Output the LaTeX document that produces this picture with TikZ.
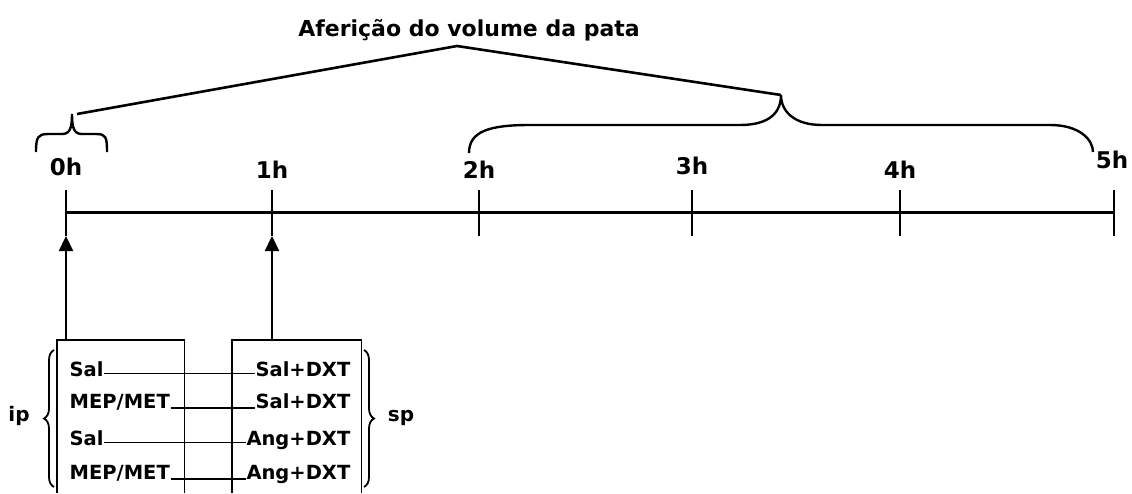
\documentclass[tikz,border=0pt]{standalone}
\usepackage{fontspec}
\setmainfont{DejaVu Sans}
\usetikzlibrary{arrows.meta, positioning, calc, decorations.pathreplacing}

\begin{document}
\begin{tikzpicture}[
  x=1pt, y=-1pt,
  hour/.style={font=\fontsize{23}{25}\selectfont\bfseries, inner sep=0pt},
  heading/.style={font=\fontsize{22}{24}\selectfont\bfseries, inner sep=0pt},
  rowtxt/.style={font=\fontsize{19.5}{21}\selectfont\bfseries, inner sep=0.5pt},
  side/.style={font=\fontsize{20}{22}\selectfont\bfseries, inner sep=0pt},
  axis/.style={line width=3pt},
  tickmark/.style={line width=2.4pt},
  lead/.style={line width=2.6pt, line join=miter},
  curve/.style={line width=2.4pt},
  curly/.style={decorate, decoration={brace, amplitude=10pt}, line width=1.8pt},
  panel/.style={inner sep=0pt, minimum height=153pt},
  frame/.style={line width=1.4pt},
  link/.style={line width=1.1pt},
  arrow/.style={-{Triangle[length=15pt, width=14pt]}, line width=2.3pt},
]
  \useasboundingbox (0,0) rectangle (1132,493);

  % Time axis
  \coordinate (t0) at (66,212);
  \coordinate (t1) at (272,212);
  \coordinate (t2) at (479,212);
  \coordinate (t3) at (692,212);
  \coordinate (t4) at (900,212);
  \coordinate (t5) at (1114,212);
  \draw[axis] (t0) -- (t5);
  \foreach \i in {0,...,5}
    \draw[tickmark] ($(t\i)+(0,-22)$) -- ($(t\i)+(0,24)$);

  \node[hour] (h0) at (66,167) {0h};
  \node[hour] (h1) at (272,170) {1h};
  \node[hour] (h2) at (479,170) {2h};
  \node[hour] (h3) at (692,166) {3h};
  \node[hour] (h4) at (900,170) {4h};
  \node[hour] (h5) at (1112,160) {5h};

  % Paw volume readings
  \node[heading] (title) at (469,30) {Aferição do volume da pata};
  \coordinate (tipA) at (72,114);
  \coordinate (tipB) at (781,95);
  \coordinate (peak) at (457,46);
  \draw[curve] (36,152) .. controls (36,137) and (38,134) .. (48,134) -- (62,134)
    .. controls (70,134) and (72,128) .. (tipA)
    .. controls (72,128) and (74,134) .. (82,134) -- (96,134)
    .. controls (106,134) and (107,137) .. (107,152);
  \draw[curve] (469,153) .. controls (469,131) and (490,125) .. (530,125) -- (740,125)
    .. controls (770,125) and (781,112) .. (tipB)
    .. controls (781,112) and (795,125) .. (822,125) -- (1050,125)
    .. controls (1080,125) and (1093,140) .. (1093,152);
  \draw[lead] ($(tipA)+(5,0)$) -- (peak) -- (tipB);

  % Treatment boxes
  \node[panel, minimum width=127pt] (ipbox) at (120.5,416.5) {};
  \node[panel, minimum width=129pt] (spbox) at (296.5,416.5) {};
  \draw[frame] (ipbox.south west) |- (ipbox.north east) -- (ipbox.south east);
  \draw[frame] (spbox.south west) |- (spbox.north east) -- (spbox.south east);
  \draw[arrow] (ipbox.north -| t0) -- ($(t0)+(0,24)$);
  \draw[arrow] (spbox.north -| t1) -- ($(t1)+(0,24)$);

  \node[rowtxt, anchor=base west] (l1) at (69,376) {Sal};
  \node[rowtxt, anchor=base west] (l2) at (69,408) {MEP/MET};
  \node[rowtxt, anchor=base west] (l3) at (69,445) {Sal};
  \node[rowtxt, anchor=base west] (l4) at (69,479) {MEP/MET};
  \node[rowtxt, anchor=base east] (r1) at (351,376) {Sal+DXT};
  \node[rowtxt, anchor=base east] (r2) at (351,408) {Sal+DXT};
  \node[rowtxt, anchor=base east] (r3) at (351,445) {Ang+DXT};
  \node[rowtxt, anchor=base east] (r4) at (351,479) {Ang+DXT};

  \draw[link] (l1.mid east) -- (r1.mid west);
  \draw[link] (l2.base east) -- (r2.base west);
  \draw[link] (l3.mid east) -- (r3.mid west);
  \draw[link] (l4.base east) -- (r4.base west);

  \draw[curly] (54,487) -- (54,350);
  \draw[curly] (364,350) -- (364,487);
  \node[side, anchor=base] (ip) at (19,421) {ip};
  \node[side, anchor=base] (sp) at (401,421) {sp};
\end{tikzpicture}
\end{document}
